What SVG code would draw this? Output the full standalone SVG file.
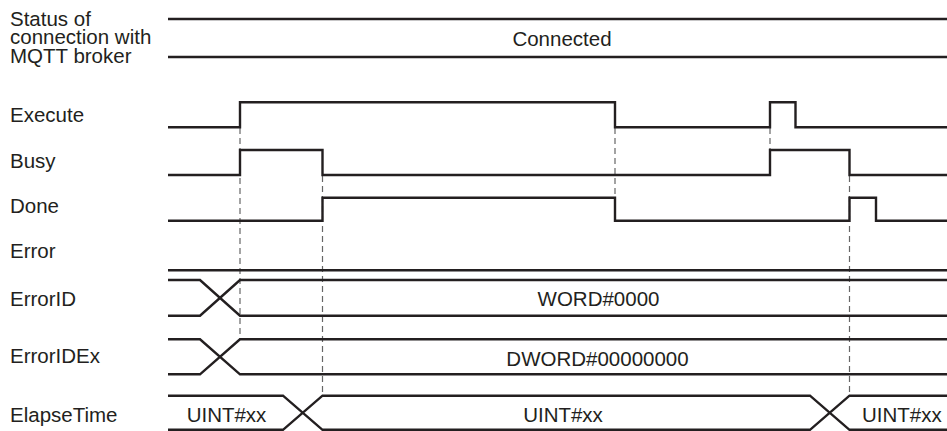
<svg xmlns="http://www.w3.org/2000/svg" width="947" height="431" viewBox="0 0 947 431">
<style>
text{font-family:"Liberation Sans",Arial,sans-serif;font-size:20.5px;fill:#231f20}
.c{text-anchor:middle}
.s{fill:none;stroke:#231f20;stroke-width:2.4;stroke-linejoin:miter}
.d{fill:none;stroke:#666;stroke-width:1.2;stroke-dasharray:6 4}
</style>
<rect width="947" height="431" fill="#fff"/>
<g id="guides">
<line class="d" x1="240" y1="128" x2="240" y2="339"/>
<line class="d" x1="322.5" y1="176" x2="322.5" y2="396"/>
<line class="d" x1="615" y1="128" x2="615" y2="198"/>
<line class="d" x1="770" y1="128" x2="770" y2="150"/>
<line class="d" x1="849.5" y1="176" x2="849.5" y2="396"/>
</g>
<g id="status">
<text x="10" y="26">Status of</text>
<text x="10" y="44.3">connection with</text>
<text x="10" y="62.7">MQTT broker</text>
<path class="s" d="M168 19H947M168 57H947"/>
<text class="c" x="562" y="46">Connected</text>
</g>
<g id="execute">
<text x="10" y="121.5">Execute</text>
<path class="s" d="M168 127.3H240V102.3H615V127.3H770V102.3H795.5V127.3H947"/>
</g>
<g id="busy">
<text x="10" y="168">Busy</text>
<path class="s" d="M168 175H240V150H322.5V175H770V150H849.5V175H947"/>
</g>
<g id="done">
<text x="10" y="213">Done</text>
<path class="s" d="M168 220.7H322.5V197.7H615V220.7H849.5V197.7H876V220.7H947"/>
</g>
<g id="error">
<text x="10" y="258">Error</text>
<path class="s" d="M168 270.3H947"/>
</g>
<g id="errorid">
<text x="10" y="306">ErrorID</text>
<path class="s" d="M168 280H200L240 315.7H947M168 315.7H200L240 280H947"/>
<text class="c" x="598.5" y="306">WORD#0000</text>
</g>
<g id="erroridex">
<text x="10" y="363">ErrorIDEx</text>
<path class="s" d="M168 339.3H200L240 374.3H947M168 374.3H200L240 339.3H947"/>
<text class="c" x="597.5" y="366">DWORD#00000000</text>
</g>
<g id="elapsetime">
<text x="10" y="421.7">ElapseTime</text>
<path class="s" d="M168 395.7H283L322.5 429.8H810L849.5 395.7H947M168 429.8H283L322.5 395.7H810L849.5 429.8H947"/>
<text class="c" x="226.5" y="421.7">UINT#xx</text>
<text class="c" x="563" y="421.7">UINT#xx</text>
<text x="862" y="421.7">UINT#xx</text>
</g>
</svg>
